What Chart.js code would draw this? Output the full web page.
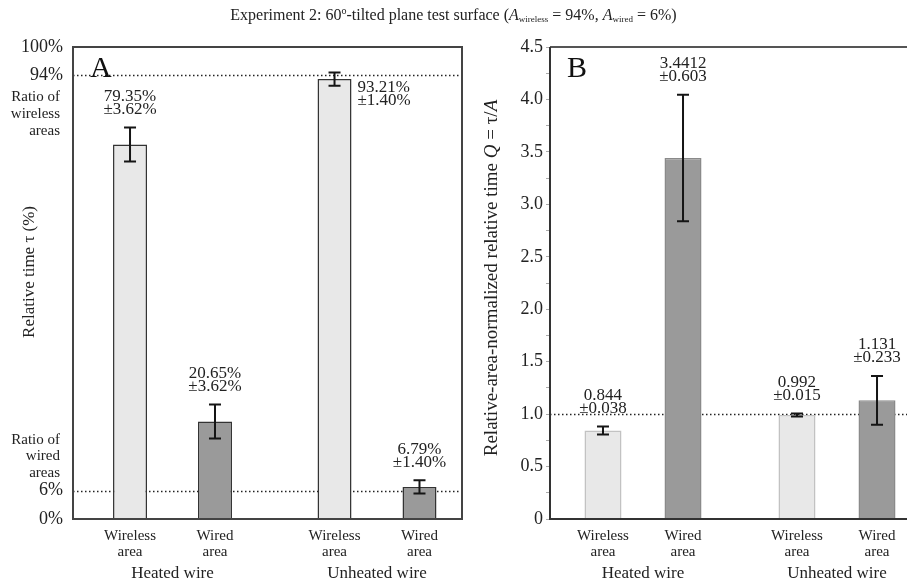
<!DOCTYPE html>
<html>
<head>
<meta charset="utf-8">
<script src="https://cdn.jsdelivr.net/npm/chart.js@4.4.1/dist/chart.umd.min.js"></script>
<style>
  body { margin: 0; background: #fff; }
  #wrap { position: relative; width: 907px; height: 585px; overflow: hidden; }
  #title { position: absolute; top: 5px; left: 0; width: 907px; text-align: center;
           font: 16px "Liberation Serif", serif; color: #222; z-index: 2; }
  #title sub { font-size: 9px; vertical-align: -2px; }
  #title sup { font-size: 10px; vertical-align: 6px; }
  canvas { position: absolute; top: 0; }
</style>
</head>
<body>
<div id="wrap">
  <div id="title">Experiment 2: 60<sup>o</sup>-tilted plane test surface (<i>A</i><sub>wireless</sub> = 94%, <i>A</i><sub>wired</sub> = 6%)</div>
  <canvas id="chartA" width="470" height="585" style="left:0"></canvas>
  <canvas id="chartB" width="437" height="585" style="left:470px"></canvas>
</div>
<script>
// Data
const groups = ['Heated wire', 'Unheated wire'];
const areaNames = [['Wireless', 'area'], ['Wired', 'area']];
const tauWireless = [79.35, 93.21];
const tauWirelessErr = [3.62, 1.40];
const tauWired = [20.65, 6.79];
const tauWiredErr = [3.62, 1.40];
const qWireless = [0.844, 0.992];
const qWirelessErr = [0.038, 0.015];
const qWired = [3.4412, 1.131];
const qWiredErr = [0.603, 0.233];
const areaRatios = [94, 6];          // wireless / wired area share (%)
const tauTicks = [0, 6, 94, 100];
const qRef = [1.0];

const SERIF = '"Liberation Serif", "Times New Roman", serif';
const LIGHT = '#e8e8e8', DARK = '#9a9a9a';

function pts(arr) { return arr.map((v, i) => ({x: i, y: v})); }

// draws reference lines, error bars, value notes, sub labels, frame, panel letter, y title
const extras = {
    id: 'extras',
    beforeDatasetsDraw(chart, args, o) {
        const {ctx, chartArea: a, scales: {y}} = chart;
        ctx.save();
        ctx.setLineDash([1.5, 2.5]);
        ctx.strokeStyle = '#222';
        ctx.lineWidth = 1.3;
        o.refLines.forEach(v => {
            const py = Math.round(y.getPixelForValue(v)) + 0.5;
            ctx.beginPath();
            ctx.moveTo(a.left, py);
            ctx.lineTo(a.right, py);
            ctx.stroke();
        });
        ctx.restore();
    },
    afterDatasetsDraw(chart, args, o) {
        const {ctx, chartArea: a, scales: {y}} = chart;
        ctx.save();
        chart.data.datasets.forEach((ds, d) => {
            chart.getDatasetMeta(d).data.forEach((bar, i) => {
                const v = ds.data[i].y, e = ds.errors[i];
                const top = y.getPixelForValue(v + e), bot = y.getPixelForValue(v - e);
                // error bar
                ctx.strokeStyle = '#151515';
                ctx.lineWidth = 2;
                ctx.beginPath();
                ctx.moveTo(bar.x, top); ctx.lineTo(bar.x, bot);
                ctx.moveTo(bar.x - 6, top); ctx.lineTo(bar.x + 6, top);
                ctx.moveTo(bar.x - 6, bot); ctx.lineTo(bar.x + 6, bot);
                ctx.stroke();
                // value note
                ctx.fillStyle = '#222';
                ctx.font = '17px ' + SERIF;
                ctx.textBaseline = 'middle';
                const lines = [o.fmt(v), '\u00b1' + o.fmt(e)];
                if (o.right(d, i)) {
                    ctx.textAlign = 'left';
                    ctx.fillText(lines[0], bar.x + bar.width / 2 + 6, bar.y + 8);
                    ctx.fillText(lines[1], bar.x + bar.width / 2 + 6, bar.y + 21);
                } else {
                    ctx.textAlign = 'center';
                    ctx.fillText(lines[0], bar.x, top - 31);
                    ctx.fillText(lines[1], bar.x, top - 18);
                }
                // sub label under bar
                ctx.font = '15px ' + SERIF;
                ctx.textAlign = 'center';
                ctx.fillText(areaNames[d][0], bar.x, a.bottom + 17);
                ctx.fillText(areaNames[d][1], bar.x, a.bottom + 33);
            });
        });
        // frame
        ctx.lineWidth = 2;
        if (o.box) {
            ctx.strokeStyle = '#444';
            ctx.strokeRect(a.left, a.top, a.right - a.left, a.bottom - a.top);
        } else {
            ctx.strokeStyle = '#555';
            ctx.beginPath();
            ctx.moveTo(a.left, a.top); ctx.lineTo(a.right, a.top);
            ctx.stroke();
            ctx.strokeStyle = '#333';
            ctx.beginPath();
            ctx.moveTo(a.left, a.top); ctx.lineTo(a.left, a.bottom); ctx.lineTo(a.right, a.bottom);
            ctx.stroke();
        }
        // panel letter
        ctx.fillStyle = '#111';
        ctx.font = '30px ' + SERIF;
        ctx.textAlign = 'left';
        ctx.textBaseline = 'alphabetic';
        ctx.fillText(o.letter, a.left + 17, a.top + 30);
        // extra axis notes
        ctx.font = '15px ' + SERIF;
        ctx.textAlign = 'right';
        ctx.textBaseline = 'middle';
        ctx.fillStyle = '#222';
        (o.sideNotes || []).forEach(n => {
            const py = y.getPixelForValue(n.at);
            n.lines.forEach((t, k) => ctx.fillText(t, 60, py + n.dy + k * 16.7));
        });
        // rotated y title with italic parts
        ctx.translate(o.titleX, o.titleY);
        ctx.rotate(-Math.PI / 2);
        const fonts = o.yTitle.map(s => (s[1] ? 'italic ' : '') + o.titleSize + 'px ' + SERIF);
        let total = 0;
        o.yTitle.forEach((s, k) => { ctx.font = fonts[k]; total += ctx.measureText(s[0]).width; });
        let x = -total / 2;
        ctx.textAlign = 'left';
        o.yTitle.forEach((s, k) => {
            ctx.font = fonts[k];
            ctx.fillText(s[0], x, 0);
            x += ctx.measureText(s[0]).width;
        });
        ctx.restore();
    }
};

function xScale(min, max) {
    return {
        type: 'linear', min: min, max: max, offset: false,
        afterBuildTicks: s => { s.ticks = groups.map((g, i) => ({value: i})); },
        ticks: {callback: v => groups[v], font: {family: SERIF, size: 17}, color: '#222', padding: 44, maxRotation: 0},
        grid: {display: false, drawTicks: false},
        border: {display: false},
        afterFit: s => { s.height = 66; s.paddingLeft = 0; s.paddingRight = 0; }
    };
}

new Chart(document.getElementById('chartA'), {
    type: 'bar',
    data: {
        datasets: [
            {label: 'Wireless area', data: pts(tauWireless), errors: tauWirelessErr,
             backgroundColor: LIGHT, borderColor: '#333', borderWidth: 1.5},
            {label: 'Wired area', data: pts(tauWired), errors: tauWiredErr,
             backgroundColor: DARK, borderColor: '#333', borderWidth: 1.5}
        ]
    },
    options: {
        responsive: false,
        animation: false,
        categoryPercentage: 0.831,
        barPercentage: 0.4,
        layout: {padding: {top: 47, right: 8, bottom: 0, left: 0}},
        plugins: {
            legend: {display: false},
            tooltip: {enabled: false},
            extras: {
                refLines: areaRatios,
                fmt: v => v.toFixed(2) + '%',
                right: (d, i) => d === 0 && i === 1,
                box: true,
                letter: 'A',
                sideNotes: [
                    {at: areaRatios[0], dy: 22, lines: ['Ratio of', 'wireless', 'areas']},
                    {at: areaRatios[1], dy: -51, lines: ['Ratio of', 'wired', 'areas']}
                ],
                yTitle: [['Relative time \u03c4 (%)', false]],
                titleSize: 17,
                titleX: 30, titleY: 272
            }
        },
        scales: {
            x: xScale(-0.4866, 1.4156),
            y: {
                min: 0, max: 100,
                afterBuildTicks: s => { s.ticks = tauTicks.map(v => ({value: v})); },
                ticks: {callback: v => v + '%', font: {family: SERIF, size: 18}, color: '#222', padding: 10, autoSkip: false},
                grid: {display: false, drawTicks: false},
                border: {display: false},
                afterFit: s => { s.width = 73; }
            }
        }
    },
    plugins: [extras]
});

new Chart(document.getElementById('chartB'), {
    type: 'bar',
    data: {
        datasets: [
            {label: 'Wireless area', data: pts(qWireless), errors: qWirelessErr,
             backgroundColor: LIGHT, borderColor: '#c2c2c2', borderWidth: 1.5},
            {label: 'Wired area', data: pts(qWired), errors: qWiredErr,
             backgroundColor: DARK, borderColor: '#8a8a8a', borderWidth: 1.5}
        ]
    },
    options: {
        responsive: false,
        animation: false,
        categoryPercentage: 0.825,
        barPercentage: 0.4625,
        layout: {padding: {top: 47, right: 0, bottom: 0, left: 0}},
        plugins: {
            legend: {display: false},
            tooltip: {enabled: false},
            extras: {
                refLines: qRef,
                fmt: v => String(v),
                right: () => false,
                box: false,
                letter: 'B',
                yTitle: [['Relative-area-normalized relative time ', false], ['Q', true], [' = \u03c4/', false], ['A', true]],
                titleSize: 19,
                titleX: 22, titleY: 278
            }
        },
        scales: {
            x: xScale(-0.4794, 1.3608),
            y: {
                min: 0, max: 4.5,
                ticks: {
                    stepSize: 0.25, autoSkip: false,
                    callback: v => (v * 2) % 1 === 0 ? (v === 0 ? '0' : v.toFixed(1)) : '',
                    font: {family: SERIF, size: 18}, color: '#222', padding: 3
                },
                grid: {display: true, drawOnChartArea: false, tickLength: 4, color: '#aaa'},
                border: {display: false},
                afterFit: s => { s.width = 80; }
            }
        }
    },
    plugins: [extras]
});
</script>
</body>
</html>
